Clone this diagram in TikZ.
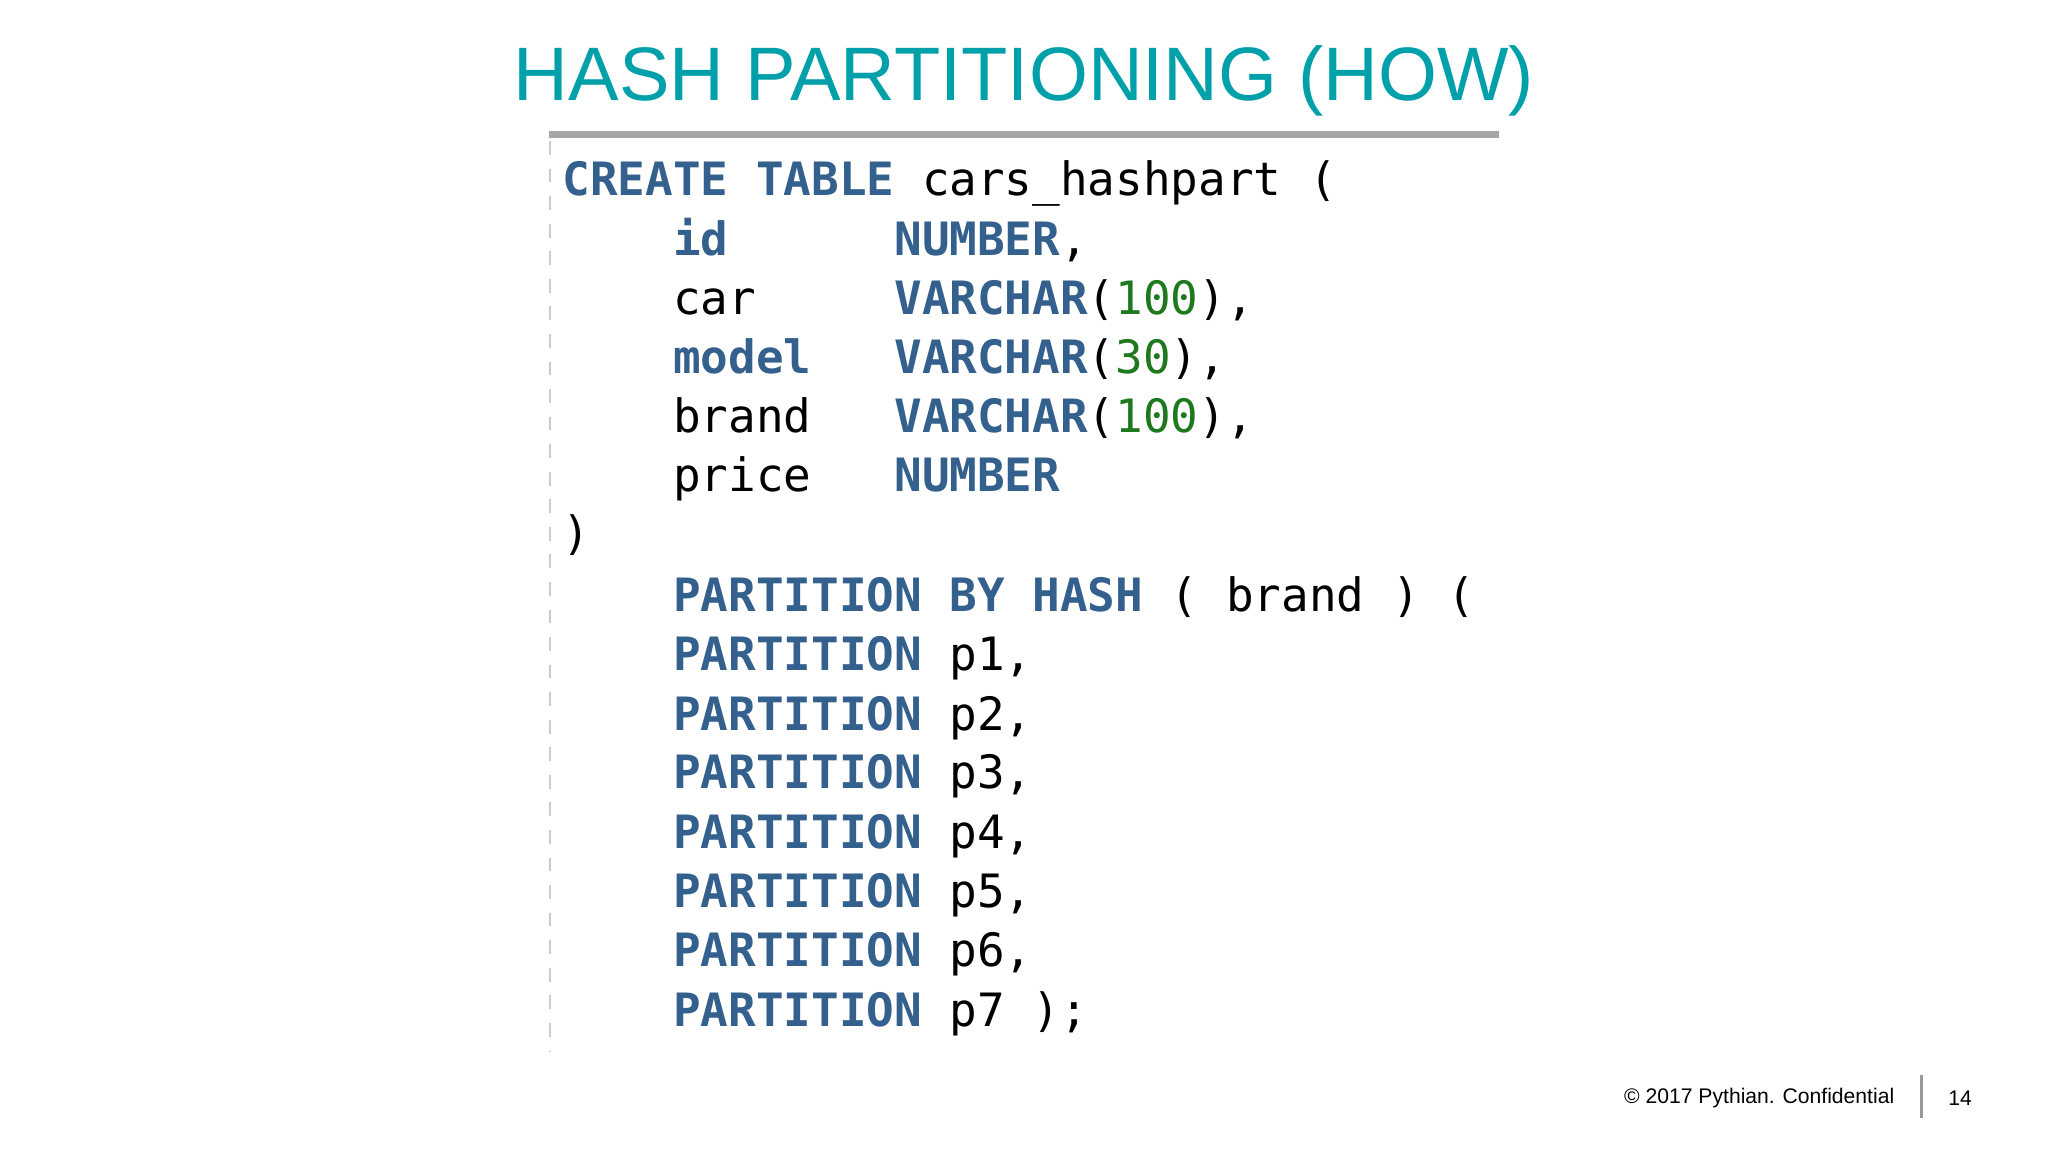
\documentclass[tikz,border=0pt]{standalone}
\usepackage{fontspec}
\setmainfont{Liberation Sans}
\newfontfamily\codef{DejaVu Sans Mono}
\definecolor{kw}{RGB}{52,96,142}
\definecolor{nm}{RGB}{30,120,30}
\definecolor{ttl}{RGB}{0,160,170}
\newcommand{\K}[1]{\textbf{\textcolor{kw}{#1}}}
\newcommand{\N}[1]{\textcolor{nm}{#1}}
\begin{document}
\begin{tikzpicture}[x=0.01cm,y=-0.01cm,
  codeline/.style={anchor=base west,inner sep=0,font=\codef\fontsize{10}{12}\selectfont},
  foot/.style={inner sep=0,font=\fontsize{4.6}{5.5}\selectfont}]
\useasboundingbox[fill=white] (0,0) rectangle (1568,882);
\node[inner sep=0,text=ttl,font=\fontsize{16.5}{20}\selectfont] (title) at (784,62) {HASH PARTITIONING (HOW)};
\coordinate (r1) at (420,103); \coordinate (r2) at (1148,103);
\draw[line width=1.6pt,gray!70] (r1) -- (r2);
\coordinate (d1) at (421,108); \coordinate (d2) at (421,805);
\draw[gray!40,dashed,line width=0.5pt] (d1) -- (d2);
\node[codeline] (l1) at (430,150) {\K{CREATE} \K{TABLE} cars\_hashpart (};
\node[codeline] (l2) at (430,196) {\hphantom{0000}\K{id}\hphantom{000000}\K{NUMBER},};
\node[codeline] (l3) at (430,241) {\hphantom{0000}car\hphantom{00000}\K{VARCHAR}(\N{100}),};
\node[codeline] (l4) at (430,286) {\hphantom{0000}\K{model}\hphantom{000}\K{VARCHAR}(\N{30}),};
\node[codeline] (l5) at (430,331) {\hphantom{0000}brand\hphantom{000}\K{VARCHAR}(\N{100}),};
\node[codeline] (l6) at (430,376) {\hphantom{0000}price\hphantom{000}\K{NUMBER}};
\node[codeline] (l7) at (430,421) {)};
\node[codeline] (l8) at (430,468) {\hphantom{0000}\K{PARTITION} \K{BY} \K{HASH} ( brand ) (};
\node[codeline] (p1) at (430,513) {\hphantom{0000}\K{PARTITION} p1,};
\node[codeline] (p2) at (430,559) {\hphantom{0000}\K{PARTITION} p2,};
\node[codeline] (p3) at (430,604) {\hphantom{0000}\K{PARTITION} p3,};
\node[codeline] (p4) at (430,650) {\hphantom{0000}\K{PARTITION} p4,};
\node[codeline] (p5) at (430,695) {\hphantom{0000}\K{PARTITION} p5,};
\node[codeline] (p6) at (430,740) {\hphantom{0000}\K{PARTITION} p6,};
\node[codeline] (p7) at (430,786) {\hphantom{0000}\K{PARTITION} p7 );};
\node[foot,anchor=east] (copy) at (1451,841) {\textcopyright{} 2017 Pythian. Confidential};
\coordinate (v1) at (1471,823); \coordinate (v2) at (1471,856);
\draw[gray!80,line width=0.6pt] (v1) -- (v2);
\node[foot,anchor=west] (pg) at (1491,841) {14};
\end{tikzpicture}
\end{document}
